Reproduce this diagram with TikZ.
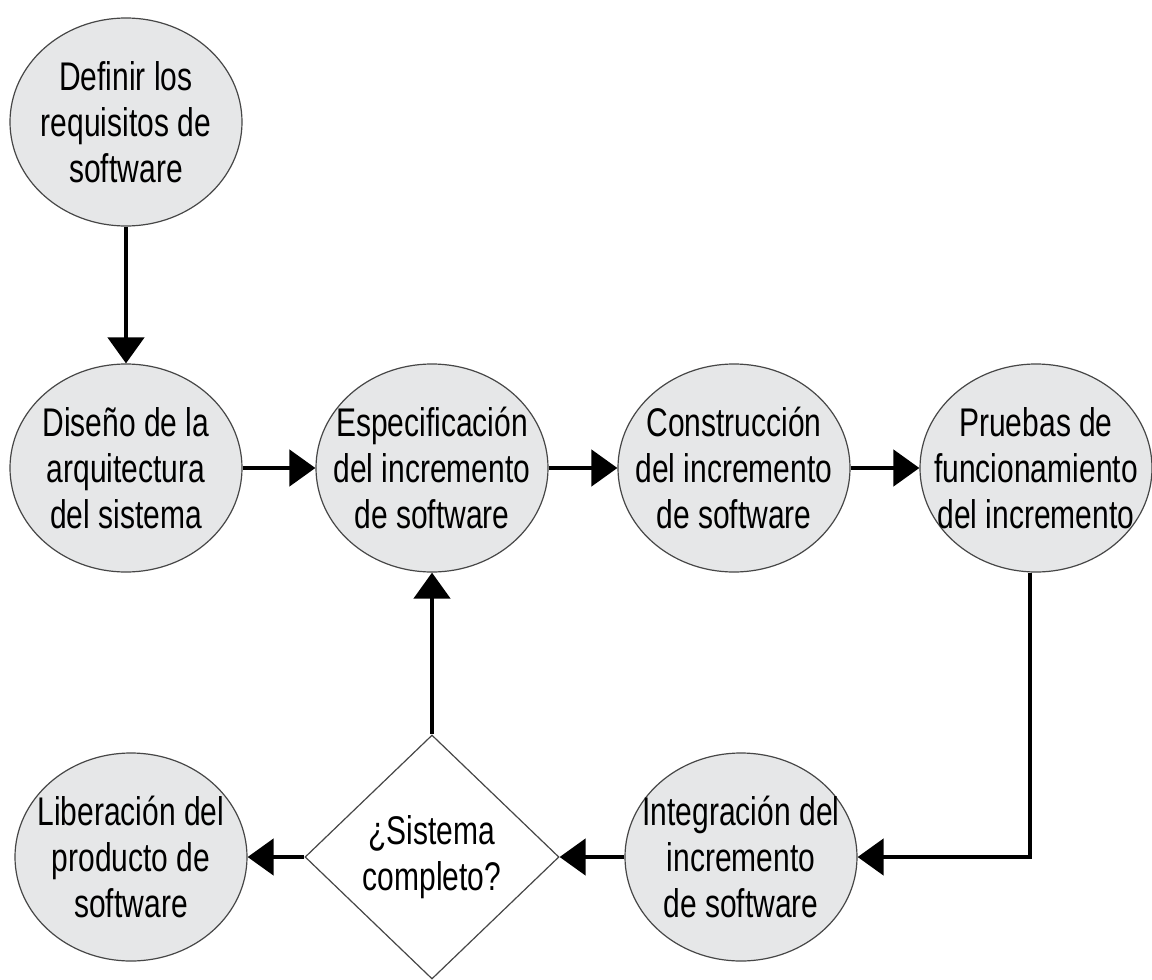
\documentclass[tikz,border=0pt]{standalone}
\usepackage{fontspec}
\setmainfont{Liberation Sans}[FakeStretch=0.75]
\usetikzlibrary{shapes.geometric,arrows.meta}
\definecolor{nodefill}{RGB}{230,231,232}
\definecolor{edgegray}{RGB}{70,70,70}
\begin{document}
\begin{tikzpicture}[x=0.5pt,y=-0.5pt,
  proc/.style={ellipse, draw=edgegray, line width=0.6pt, fill=nodefill, minimum width=116pt, minimum height=104pt, inner sep=0pt},
  txt/.style={align=center, font=\fontsize{20}{23}\selectfont, inner sep=0pt},
  decision/.style={diamond, draw=edgegray, line width=0.6pt, fill=white, minimum width=127pt, minimum height=122pt, inner sep=0pt},
  arr/.style={line width=2.3pt, -{Triangle[length=13pt,width=18pt]}}
]
\useasboundingbox (0,0) rectangle (1152,980);
\node[proc, label={[txt]center:Definir los\\requisitos de\\software}] (def) at (126,122) {};
\node[proc, label={[txt]center:Diseño de la\\arquitectura\\del sistema}] (dis) at (126,468) {};
\node[proc, label={[txt]center:Especificación\\del incremento\\de software}] (esp) at (432,468) {};
\node[proc, label={[txt]center:Construcción\\del incremento\\de software}] (con) at (734,468) {};
\node[proc, label={[txt]center:Pruebas de\\funcionamiento\\del incremento}] (pru) at (1036,468) {};
\node[proc, label={[txt]center:Liberación del\\producto de\\software}] (lib) at (131,857) {};
\node[decision, label={[txt]center:¿Sistema\\completo?}] (dec) at (432,857) {};
\node[proc, label={[txt]center:Integración del\\incremento\\de software}] (int) at (741,857) {};

\draw[arr] (def) -- (dis);
\draw[arr] (dis) -- (esp);
\draw[arr] (esp) -- (con);
\draw[arr] (con) -- (pru);
\draw[arr] ([xshift=-3pt]pru.south) |- (int.east);
\draw[arr] (int) -- (dec);
\draw[arr] (dec) -- (lib);
\draw[arr] (dec) -- (esp);
\end{tikzpicture}
\end{document}
